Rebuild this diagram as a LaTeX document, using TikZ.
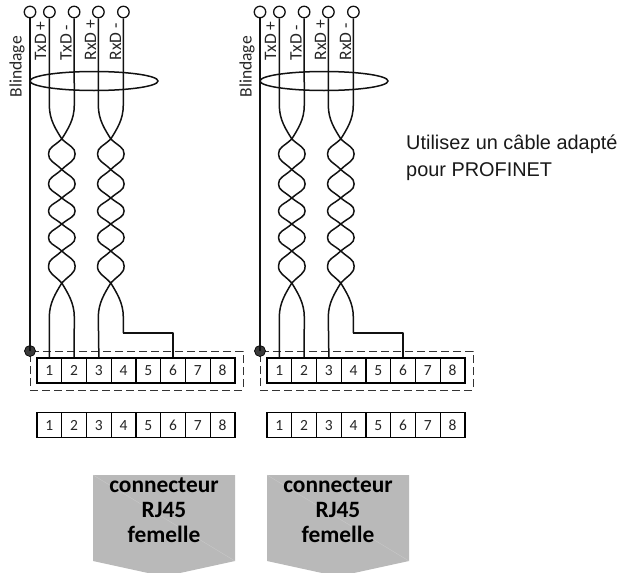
\documentclass[tikz,border=0pt]{standalone}
\usepackage{fontspec}
\setmainfont{Carlito}
\newfontfamily\lib{Liberation Sans}
\usetikzlibrary{shapes.geometric}
\definecolor{wirec}{HTML}{111111}
\definecolor{rjgray}{HTML}{B9B9B9}
\definecolor{rjline}{HTML}{C8C8C8}
\definecolor{dotc}{HTML}{3A3A3A}
\tikzset{
  wire/.style={draw=wirec,line width=1.5pt,line join=round},
  term/.style={circle,draw=wirec,line width=1.3pt,fill=white,minimum size=11.5pt,inner sep=0pt},
  cell/.style={rectangle,draw=black,line width=1.4pt,fill=white,minimum width=24.75pt,minimum height=25pt,inner sep=0pt,font=\fontsize{15.5}{15.5}\selectfont,text=black!85},
  siglabel/.style={rotate=90,anchor=west,inner sep=0pt,font=\fontsize{17.5}{17.5}\selectfont,text=black!85},
  shieldring/.style={ellipse,draw=wirec,line width=1.5pt,minimum width=128pt,minimum height=19pt,inner sep=0pt},
  dashbox/.style={rectangle,draw=black!80,line width=.8pt,dash pattern=on 8pt off 4pt,minimum width=213pt,minimum height=39pt,inner sep=0pt},
  junction/.style={circle,draw=black,line width=.7pt,fill=dotc,minimum size=11pt,inner sep=0pt},
  rjtext/.style={align=center,font=\bfseries\fontsize{23.4}{25}\selectfont,text=black,inner sep=0pt},
  note/.style={anchor=north west,align=left,inner sep=0pt,font=\lib\fontsize{19.9}{27}\selectfont,text=black!90}
}
% one half of a twist: crossing #3, apex #4, crossing #5, on side #2 of axis #1
\newcommand{\lobe}[5]{.. controls ({#1+#2*8},{#3+(#4-#3)*.5}) and ({#1+#2*13.3},{#4-(#4-#3)*.45}) .. ({#1+#2*13.3},#4) .. controls ({#1+#2*13.3},{#4+(#5-#4)*.45}) and ({#1+#2*8},{#5-(#5-#4)*.5}) .. (#1,#5)}
% strand from node #1 to coordinate/node #2, axis #3, start side #4
\newcommand{\strand}[4]{\draw[wire] (#1.south) -- ({#3+#4*12.5},105)
  .. controls ({#3+#4*12.5},120) and ({#3+#4*6},129) .. (#3,139)
  \lobe{#3}{-#4}{139}{154}{169.5} \lobe{#3}{#4}{169.5}{184}{198}
  \lobe{#3}{-#4}{198}{211}{224} \lobe{#3}{#4}{224}{237.5}{251}
  \lobe{#3}{-#4}{251}{266}{283}
  .. controls ({#3+#4*6},293) and ({#3+#4*12.5},303) .. ({#3+#4*12.5},317) -- (#2);}
\begin{document}
\begin{tikzpicture}[x=1pt,y=-1pt]
\useasboundingbox (0,0) rectangle (627,573);
\foreach \s/\o/\rx in {L/0/164,R/230/338}{
\begin{scope}[shift={(\o,0)}]
  % top terminals
  \node[term] (\s t0) at (30,12) {};
  \node[term] (\s t1) at (49.4,12) {};
  \node[term] (\s t2) at (74.1,12) {};
  \node[term] (\s t3) at (98.4,12) {};
  \node[term] (\s t4) at (123.4,12) {};
  % labels
  \node[siglabel] (\s lb) at (17,97.5) {Blindage};
  \node[siglabel] (\s l1) at (40.5,60.5) {TxD +};
  \node[siglabel] (\s l2) at (66,60.5) {TxD -};
  \node[siglabel] (\s l3) at (90.5,60.5) {RxD +};
  \node[siglabel] (\s l4) at (115.5,60.5) {RxD -};
  % dashed box and upper terminal row
  \node[dashbox] (\s dash) at (136.5,370.5) {};
  \foreach \i in {1,...,8}{
    \node[cell] (\s c\i) at ({37+(\i-.5)*24.75},370.5) {\i};
    \node[cell] (\s d\i) at ({37+(\i-.5)*24.75},425.2) {\i};
  }
  % shield
  \node[junction] (\s j) at (30,351) {};
  \draw[wire] (\s t0.south) -- (\s j.center);
  \node[shieldring] (\s ring) at (94,81) {};
  % twisted pairs
  \strand{\s t1}{\s c1.north}{61.8}{-1}
  \strand{\s t2}{\s c2.north}{61.8}{1}
  \strand{\s t3}{\s c3.north}{110.8}{-1}
  \coordinate (\s elbowa) at (123.4,333);
  \strand{\s t4}{\s elbowa}{110.8}{1}
  \draw[wire] (\s elbowa) -| (\s c6.north);
\end{scope}
  % RJ45 pentagon
  \pgfmathsetmacro{\cx}{\rx}
  \fill[rjgray] ({\cx-71},475) -- ({\cx+71},475) -- ({\cx+71},561) -- ({\cx+16},573) -- ({\cx-16},573) -- ({\cx-71},561) -- cycle;
  \draw[rjline,line width=.4pt] ({\cx-71},475) -- ({\cx+71},561);
  \node[rjtext] (\s rj) at (\cx,510) {connecteur\\RJ45\\femelle};
}
\node[note] (note) at (406,135) {Utilisez un câble adapté\\pour PROFINET};
\end{tikzpicture}
\end{document}
